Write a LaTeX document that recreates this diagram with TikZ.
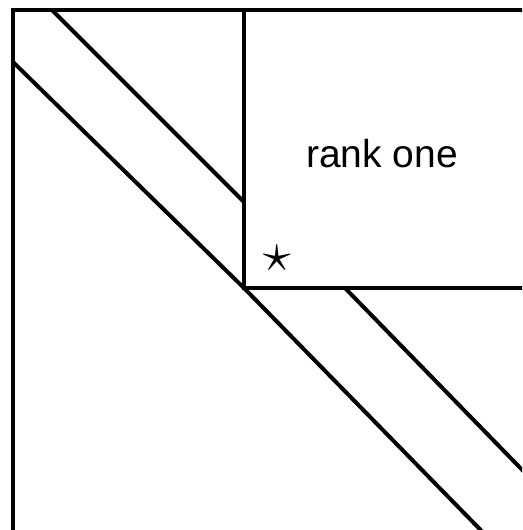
\RequirePackage{fix-cm}
\documentclass[tikz,border=0pt]{standalone}
\usepackage{fontspec}
\setmainfont{Liberation Sans}
\begin{document}
\begin{tikzpicture}[x=1pt,y=-1pt,
  edge/.style={draw=black,line width=4pt}]
\useasboundingbox (0,0) rectangle (522,530);
\clip (0,0) rectangle (522,530);
\draw[edge] (13,560) -- (13,10) -- (560,10);
\coordinate (c) at (244,288);
\draw[edge] (52,10) -- (244,202);
\draw[edge] (244,10) -- (c) -- (560,288);
\draw[edge] (13,62) -- (c) -- (510,560);
\draw[edge] (345,288) -- (610,560);
\node (lbl) at (382,154) {\fontsize{39}{40}\selectfont rank one};
\node (star) at (277,258) {\fontsize{56}{56}\selectfont$\star$};
\end{tikzpicture}
\end{document}
